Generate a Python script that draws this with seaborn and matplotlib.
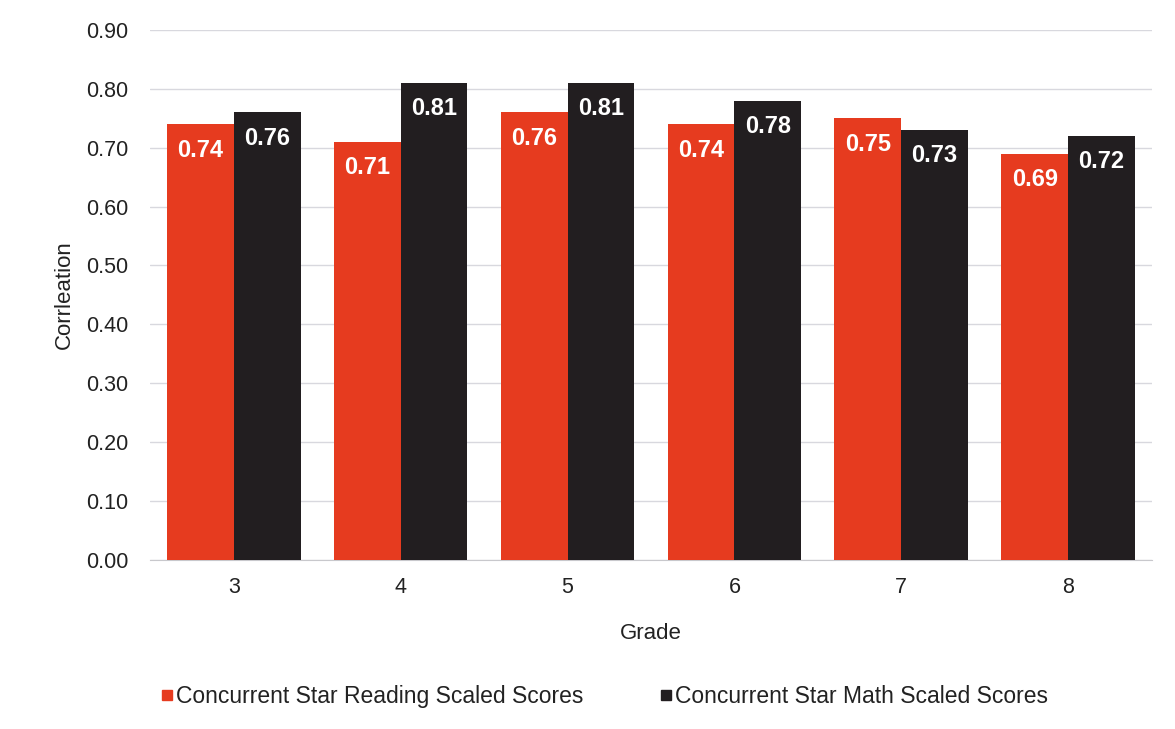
import pandas as pd
import matplotlib.pyplot as plt
import seaborn as sns
from matplotlib.lines import Line2D

# data
grades = ['3', '4', '5', '6', '7', '8']
reading = [0.74, 0.71, 0.76, 0.74, 0.75, 0.69]
math = [0.76, 0.81, 0.81, 0.78, 0.73, 0.72]
series = ['Concurrent Star Reading Scaled Scores', 'Concurrent Star Math Scaled Scores']
yticks = [0.0, 0.1, 0.2, 0.3, 0.4, 0.5, 0.6, 0.7, 0.8, 0.9]

colors = {series[0]: '#E63B1F', series[1]: '#221E20'}

df = pd.DataFrame({
    'Grade': grades * 2,
    'Correlation': reading + math,
    'Series': [series[0]] * len(grades) + [series[1]] * len(grades),
})

sns.set_style('white')
plt.rcParams['font.family'] = ['Liberation Sans', 'DejaVu Sans']

fig = plt.figure(figsize=(11.75, 7.29), dpi=100)
ax = fig.add_axes([0.128, 0.232, 0.852, 0.727])

sns.barplot(data=df, x='Grade', y='Correlation', hue='Series', order=grades,
            hue_order=series, palette=colors, width=0.8, saturation=1,
            linewidth=0, ax=ax, legend=False, zorder=3)

ax.set_ylim(0, 0.9)
ax.set_yticks(yticks)
ax.set_yticklabels([f'{v:.2f}' for v in yticks])
ax.yaxis.grid(True, color='#D8D8DE', linewidth=1, zorder=0)
ax.set_axisbelow(True)
for side in ['top', 'right', 'left']:
    ax.spines[side].set_visible(False)
ax.spines['bottom'].set_color('#C8C8CC')
ax.tick_params(axis='both', length=0, labelsize=15.5, colors='#222222')
ax.tick_params(axis='x', pad=12)
ax.tick_params(axis='y', pad=16)

ax.set_xlabel('Grade', fontsize=16, color='#222222', labelpad=18)
ax.set_ylabel('Corrleation', fontsize=16, color='#222222', labelpad=8)

# value labels inside the top of each bar
for cont in ax.containers:
    for bar in cont:
        h = bar.get_height()
        ax.annotate(f'{h:.2f}', (bar.get_x() + bar.get_width() / 2, h),
                    xytext=(0, -26), textcoords='offset pixels',
                    ha='center', va='center', color='white',
                    fontsize=17, fontweight='bold', zorder=5)

handles = [Line2D([], [], marker='s', linestyle='', markersize=7,
                  markerfacecolor=colors[s], markeredgecolor=colors[s]) for s in series]
fig.legend(handles, series, loc='center', bbox_to_anchor=(0.513, 0.045),
           ncol=2, frameon=False, fontsize=16.5, handletextpad=0.0,
           columnspacing=3.2, handlelength=0.8, labelcolor='#222222')

fig.savefig('out.png', dpi=100)
